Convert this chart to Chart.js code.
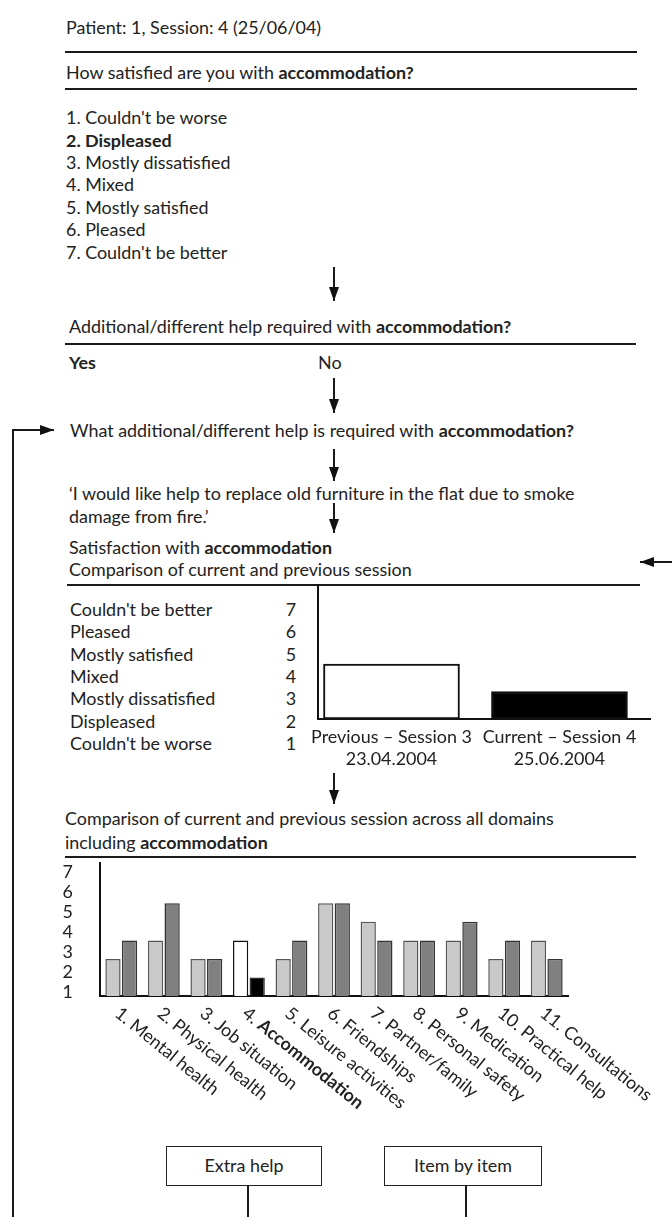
<!DOCTYPE html>
<html>
<head>
<meta charset="utf-8">
<script src="https://cdn.jsdelivr.net/npm/chart.js@4.4.1/dist/chart.umd.min.js"></script>
<style>
  html, body { margin: 0; padding: 0; background: #fff; }
  #page { position: relative; width: 672px; height: 1217px; overflow: hidden; font-family: Lato, 'Open Sans', sans-serif; color: #222; }
  .t { position: absolute; white-space: nowrap; line-height: 22px; height: 22px; }
  .num { position: absolute; width: 20px; text-align: center; line-height: 22px; }
  b { font-weight: 700; }
  canvas { position: absolute; }
  svg { position: absolute; left: 0; top: 0; }
  .box { position: absolute; border: 1.5px solid #222; box-sizing: border-box; text-align: center; background: #fff; }
</style>
</head>
<body>
<div id="page">
  <svg width="672" height="1217">
    <defs>
      <marker id="ah" markerWidth="14" markerHeight="10" refX="14" refY="5" orient="auto" markerUnits="userSpaceOnUse">
        <path d="M0,0 L14,5 L0,10 z" fill="#111"/>
      </marker>
    </defs>
    <g stroke="#1a1a1a" stroke-width="2" fill="none">
      <line x1="65" y1="52" x2="637" y2="52"/>
      <line x1="65" y1="89" x2="637" y2="89"/>
      <line x1="65" y1="344" x2="636" y2="344"/>
      <line x1="67" y1="585" x2="640" y2="585"/>
      <line x1="65" y1="857" x2="636" y2="857"/>
      <line x1="334" y1="267" x2="334" y2="301" marker-end="url(#ah)"/>
      <line x1="334" y1="378" x2="334" y2="413" marker-end="url(#ah)"/>
      <line x1="334" y1="449" x2="334" y2="481" marker-end="url(#ah)"/>
      <line x1="334" y1="503" x2="334" y2="533" marker-end="url(#ah)"/>
      <line x1="334" y1="773" x2="334" y2="804" marker-end="url(#ah)"/>
      <polyline points="13,1217 13,430 54,430" marker-end="url(#ah)"/>
      <line x1="672" y1="562" x2="640" y2="562" marker-end="url(#ah)"/>
      <line x1="248" y1="1186" x2="248" y2="1217"/>
      <line x1="466" y1="1186" x2="466" y2="1217"/>
    </g>
  </svg>

  <div class="t" style="left:66px;top:16px">Patient: 1, Session: 4 (25/06/04)</div>
  <div class="t" style="left:66px;top:61px">How satisfied are you with <b>accommodation?</b></div>
  <div class="t" style="left:66px;top:106px">1. Couldn't be worse</div>
  <div class="t" style="left:66px;top:129px"><b>2. Displeased</b></div>
  <div class="t" style="left:66px;top:151px">3. Mostly dissatisfied</div>
  <div class="t" style="left:66px;top:173px">4. Mixed</div>
  <div class="t" style="left:66px;top:196px">5. Mostly satisfied</div>
  <div class="t" style="left:66px;top:218px">6. Pleased</div>
  <div class="t" style="left:66px;top:241px">7. Couldn't be better</div>

  <div class="t" style="left:69px;top:315px">Additional/different help required with <b>accommodation?</b></div>
  <div class="t" style="left:69px;top:351px"><b>Yes</b></div>
  <div class="t" style="left:318px;top:351px">No</div>
  <div class="t" style="left:70px;top:419px">What additional/different help is required with <b>accommodation?</b></div>
  <div class="t" style="left:69px;top:482px">‘I would like help to replace old furniture in the flat due to smoke</div>
  <div class="t" style="left:69px;top:505px">damage from fire.’</div>
  <div class="t" style="left:69px;top:536px">Satisfaction with <b>accommodation</b></div>
  <div class="t" style="left:69px;top:558px">Comparison of current and previous session</div>

  <div id="scaleList"></div>

  <div class="t" style="left:65px;top:807px">Comparison of current and previous session across all domains</div>
  <div class="t" style="left:65px;top:831px">including <b>accommodation</b></div>

  <canvas id="sessionChart" width="372" height="200" style="left:300px;top:580px"></canvas>
  <canvas id="domainChart" width="632" height="392" style="left:40px;top:825px"></canvas>

  <div class="box" style="left:166px;top:1146px;width:156px;height:40px;line-height:37px">Extra help</div>
  <div class="box" style="left:384px;top:1146px;width:158px;height:40px;line-height:37px">Item by item</div>
</div>

<script>
const scaleNames = ["Couldn't be better", 'Pleased', 'Mostly satisfied', 'Mixed', 'Mostly dissatisfied', 'Displeased', "Couldn't be worse"];
const scaleValues = [7, 6, 5, 4, 3, 2, 1];

const sessionLabels = [['Previous – Session 3', '23.04.2004'], ['Current – Session 4', '25.06.2004']];
const sessionScores = [4, 2];

const domains = ['1. Mental health', '2. Physical health', '3. Job situation', '4. Accommodation', '5. Leisure activities',
  '6. Friendships', '7. Partner/family', '8. Personal safety', '9. Medication', '10. Practical help', '11. Consultations'];
const previousScores = [3, 4, 3, 4, 3, 6, 5, 4, 4, 3, 4];
const currentScores = [4, 6, 3, 2, 4, 6, 4, 4, 5, 4, 3];
const highlightIndex = 3;
const axisTicks = [1, 2, 3, 4, 5, 6, 7];

// size the text so the long question line fills the same width as the scan
const probe = document.createElement('canvas').getContext('2d');
probe.font = '100px Lato';
let w = probe.measureText('What additional/different help is required with ').width;
probe.font = 'bold 100px Lato';
w += probe.measureText('accommodation?').width;
const fs = Math.round(100 * 506 / w * 10) / 10;
document.getElementById('page').style.fontSize = fs + 'px';

const list = document.getElementById('scaleList');
const rowY = [609, 631, 654, 676, 698, 721, 743];
scaleNames.forEach((name, i) => {
  const t = document.createElement('div');
  t.className = 't';
  t.style.left = '70px';
  t.style.top = (rowY[i] - 11) + 'px';
  t.textContent = name;
  list.appendChild(t);
  const n = document.createElement('div');
  n.className = 'num';
  n.style.left = '281px';
  n.style.top = (rowY[i] - 11) + 'px';
  n.textContent = scaleValues[i];
  list.appendChild(n);
});

Chart.defaults.font.family = 'Lato';
Chart.defaults.font.size = fs;
Chart.defaults.color = '#222';

new Chart(document.getElementById('sessionChart'), {
  type: 'bar',
  data: {
    datasets: [{
      data: sessionScores.map((v, i) => ({ x: i + 1, y: v })),
      backgroundColor: ['#ffffff', '#000000'],
      borderColor: '#111',
      borderWidth: 2,
      borderSkipped: false,
      barThickness: 136
    }]
  },
  options: {
    responsive: false,
    animation: false,
    layout: { autoPadding: false, padding: { left: 18, right: 22, top: 5, bottom: 0 } },
    plugins: { legend: { display: false }, tooltip: { enabled: false } },
    scales: {
      x: {
        type: 'linear', min: 0.5625, max: 2.539, offset: false, bounds: 'data',
        grid: { display: false, drawTicks: false },
        border: { color: '#111', width: 2 },
        afterBuildTicks: s => { s.ticks = sessionLabels.map((_, i) => ({ value: i + 1 })); },
        ticks: { callback: v => sessionLabels[v - 1], padding: 7, maxRotation: 0, autoSkip: false, font: { lineHeight: '22px' } },
        afterFit: s => { s.height = 61; }
      },
      y: {
        min: 0, max: 9.745,
        grid: { display: false, drawTicks: false },
        ticks: { display: false },
        border: { color: '#111', width: 2 },
        afterFit: s => { s.width = 0; }
      }
    }
  }
});

const domainLabels = {
  id: 'domainLabels',
  afterDraw(chart) {
    const { ctx, scales: { x } } = chart;
    const angle = 39 * Math.PI / 180;
    ctx.save();
    ctx.fillStyle = '#222';
    ctx.textAlign = 'left';
    ctx.textBaseline = 'middle';
    domains.forEach((name, i) => {
      ctx.save();
      ctx.translate(x.getPixelForValue(i) - 4, x.top + 15);
      ctx.rotate(angle);
      if (i === highlightIndex) {
        const cut = name.indexOf(' ') + 1;
        ctx.font = fs + 'px Lato';
        ctx.fillText(name.slice(0, cut), 0, 0);
        const off = ctx.measureText(name.slice(0, cut)).width;
        ctx.font = 'bold ' + fs + 'px Lato';
        ctx.fillText(name.slice(cut), off, 0);
      } else {
        ctx.font = fs + 'px Lato';
        ctx.fillText(name, 0, 0);
      }
      ctx.restore();
    });
    ctx.restore();
  }
};

new Chart(document.getElementById('domainChart'), {
  type: 'bar',
  data: {
    labels: domains,
    datasets: [{
      label: 'Previous',
      data: previousScores,
      backgroundColor: domains.map((_, i) => i === highlightIndex ? '#ffffff' : '#c9c9c9'),
      borderColor: domains.map((_, i) => i === highlightIndex ? '#111' : '#555'),
      borderWidth: 1.5,
      categoryPercentage: 0.78,
      barPercentage: 0.92
    }, {
      label: 'Current',
      data: currentScores,
      backgroundColor: domains.map((_, i) => i === highlightIndex ? '#000000' : '#808080'),
      borderColor: '#333',
      borderWidth: 1.5,
      categoryPercentage: 0.78,
      barPercentage: 0.92
    }]
  },
  options: {
    responsive: false,
    animation: false,
    layout: { autoPadding: false, padding: { left: 0, right: 104, top: 8, bottom: 0 } },
    plugins: { legend: { display: false }, tooltip: { enabled: false } },
    scales: {
      x: {
        grid: { display: false, drawTicks: false },
        ticks: { display: false },
        border: { color: '#111', width: 2 },
        afterFit: s => { s.height = 221; }
      },
      y: { display: false, min: 1, max: 1 + 133 / 18.5 },
      yTicks: {
        position: 'left', min: 0.8, max: 7.45,
        grid: { display: false, drawTicks: false },
        border: { color: '#111', width: 2 },
        afterBuildTicks: s => { s.ticks = axisTicks.map(v => ({ value: v })); },
        ticks: { padding: 27, autoSkip: false, callback: v => v },
        afterFit: s => { s.width = 60; }
      }
    }
  },
  plugins: [domainLabels]
});
</script>
</body>
</html>
